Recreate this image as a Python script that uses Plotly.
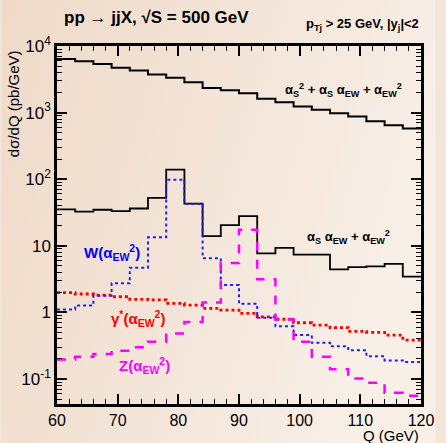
import base64
import plotly.graph_objects as go

# Bin edges (GeV): 3 GeV bins from 60 to 120
bin_edges = [60 + 3 * i for i in range(21)]

total = [6380, 5890, 5370, 4720, 4270, 3720, 3340, 2850, 2340, 2160,
         1950, 1620, 1430, 1230, 1100, 977, 871, 741, 646, 575]
ew_mixed = [35.3, 32.5, 34.8, 33.1, 36.3, 52.5, 139, 42.9, 14.0, 20.4,
            28.0, 7.7, 9.3, 7.35, 7.35, 4.43, 4.79, 4.90, 5.37, 3.44]
w_ew = [1.11, 1.27, 1.78, 2.73, 4.7, 13.4, 98, 42.6, 6.5, 2.57,
        1.35, 0.83, 0.62, 0.457, 0.35, 0.31, 0.27, 0.22, 0.19, 0.18]
gamma_ew = [1.98, 1.89, 1.82, 1.72, 1.57, 1.54, 1.37, 1.29, 1.15, 1.08,
            0.97, 0.86, 0.79, 0.70, 0.645, 0.59, 0.52, 0.50, 0.457, 0.385]
z_ew = [0.197, 0.216, 0.237, 0.266, 0.30, 0.363, 0.484, 0.72, 1.41, 5.5,
        17.5, 3.14, 0.79, 0.363, 0.216, 0.14, 0.102, 0.088, 0.062, 0.056]

y_tickvals = [0.1, 1, 10, 100, 1000, 10000]
y_ticktext = ["10<sup>-1</sup>", "1", "10", "10<sup>2</sup>", "10<sup>3</sup>", "10<sup>4</sup>"]
x_tickvals = [60, 70, 80, 90, 100, 110, 120]

FONT = "Liberation Sans, Arial, Helvetica, sans-serif"


def step(vals):
    return bin_edges[:], list(vals) + [vals[-1]]


fig = go.Figure()
series = [
    (total, dict(color="black", width=2)),
    (ew_mixed, dict(color="black", width=1.8)),
    (gamma_ew, dict(color="#ff0000", width=2.8, dash="dot")),
    (w_ew, dict(color="#2020ff", width=2, dash="dot")),
    (z_ew, dict(color="#ff00ff", width=2.5, dash="dash")),
]
for vals, line in series:
    x, y = step(vals)
    fig.add_trace(go.Scatter(x=x, y=y, mode="lines", line_shape="hv",
                             line=line, showlegend=False, hoverinfo="skip"))

# background gradient
svg = ('<svg xmlns="http://www.w3.org/2000/svg" width="446" height="443">'
       '<defs><linearGradient id="g" x1="0" y1="0" x2="1" y2="0.3">'
       '<stop offset="0" stop-color="#efdac8"/>'
       '<stop offset="0.6" stop-color="#f4e6da"/>'
       '<stop offset="1" stop-color="#f8efe7"/>'
       '</linearGradient></defs>'
       '<rect width="446" height="443" fill="url(#g)"/></svg>')
uri = "data:image/svg+xml;base64," + base64.b64encode(svg.encode()).decode()

L, R, T, B = 57, 15, 46, 39
W, H = 446, 443
pw, ph = W - L - R, H - T - B

axis_common = dict(showline=True, linewidth=2.5, linecolor="black", mirror="allticks",
                   ticks="inside", ticklen=10, tickwidth=1.5, tickcolor="black",
                   showgrid=False, zeroline=False)

fig.update_layout(
    width=W, height=H,
    margin=dict(l=L, r=R, t=T, b=B),
    paper_bgcolor="#f3e5d8",
    plot_bgcolor="rgba(0,0,0,0)",
    images=[dict(source=uri, xref="paper", yref="paper", x=-L / pw, y=1 + T / ph,
                 sizex=W / pw, sizey=H / ph, sizing="stretch", layer="below",
                 xanchor="left", yanchor="top")],
    xaxis=dict(range=[60, 120], tickvals=x_tickvals,
               tickfont=dict(family=FONT, size=16, color="black"), ticklabelstandoff=0,
               minor=dict(ticks="inside", ticklen=5, tickwidth=1.2, dtick=2, tickcolor="black"),
               **axis_common),
    yaxis=dict(type="log", range=[-1.375, 4], tickvals=y_tickvals, ticktext=y_ticktext,
               tickfont=dict(family=FONT, size=17, color="black"),
               minor=dict(ticks="inside", ticklen=5, tickwidth=1.2, dtick="D1", tickcolor="black"),
               **axis_common),
    font=dict(family=FONT, color="black"),
)

ann = []
ann.append(dict(text="<b>pp → jjX, √S = 500 GeV</b>", xref="paper", yref="paper",
                x=(62 - L) / pw, y=1 + (T - 18) / ph, xanchor="left", yanchor="middle",
                showarrow=False, font=dict(size=17, family=FONT)))
ann.append(dict(text="<b>p<sub>Tj</sub> > 25 GeV, |y<sub>j</sub>|<2</b>", xref="paper", yref="paper",
                x=1, y=1 + (T - 25) / ph, xanchor="right", yanchor="middle",
                showarrow=False, font=dict(size=13, family=FONT)))
ann.append(dict(text="dσ/dQ (pb/GeV)", xref="paper", yref="paper",
                x=(12 - L) / pw, y=(H - B - 104) / ph, textangle=-90,
                xanchor="center", yanchor="middle", showarrow=False,
                font=dict(size=15, family=FONT)))
ann.append(dict(text="Q (GeV)", xref="paper", yref="paper",
                x=1, y=-(425 - (H - B)) / ph, xanchor="right", yanchor="top",
                showarrow=False, font=dict(size=15, family=FONT)))
ann.append(dict(text="<b>α<sub>S</sub><sup>2</sup> + α<sub>S</sub> α<sub>EW</sub> + α<sub>EW</sub><sup>2</sup></b>",
                x=107.3, y=3.34, xanchor="center", yanchor="middle", showarrow=False,
                font=dict(size=13, family=FONT, color="black")))
ann.append(dict(text="<b>α<sub>S</sub> α<sub>EW</sub> + α<sub>EW</sub><sup>2</sup></b>",
                x=108.1, y=1.13, xanchor="center", yanchor="middle", showarrow=False,
                font=dict(size=13, family=FONT, color="black")))
ann.append(dict(text="<b>W(α<sub>EW</sub><sup>2</sup>)</b>",
                x=69.0, y=0.907, xanchor="center", yanchor="middle", showarrow=False,
                font=dict(size=15, family=FONT, color="#0000ff")))
ann.append(dict(text="<b>γ<sup>*</sup>(α<sub>EW</sub><sup>2</sup>)</b>",
                x=73.3, y=-0.084, xanchor="center", yanchor="middle", showarrow=False,
                font=dict(size=15, family=FONT, color="#ff0000")))
ann.append(dict(text="<b>Z(α<sub>EW</sub><sup>2</sup>)</b>",
                x=74.4, y=-0.79, xanchor="center", yanchor="middle", showarrow=False,
                font=dict(size=15, family=FONT, color="#ff00ff")))
fig.update_layout(annotations=ann)

fig.write_html("out.html")
